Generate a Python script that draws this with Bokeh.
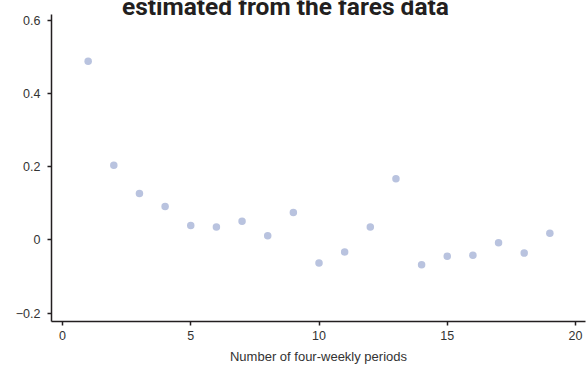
from bokeh.plotting import figure
from bokeh.models import FixedTicker, Range1d, Label
from bokeh.embed import file_html
from bokeh.resources import INLINE

# Data
periods = list(range(1, 20))
values = [0.488, 0.204, 0.127, 0.091, 0.039, 0.035, 0.051, 0.011, 0.075,
          -0.063, -0.033, 0.035, 0.167, -0.068, -0.045, -0.042, -0.008, -0.036, 0.018]
x_ticks = [0, 5, 10, 15, 20]
y_ticks = [-0.2, 0, 0.2, 0.4, 0.6]
y_tick_labels = ["\u22120.2", "0", "0.2", "0.4", "0.6"]
title_text = "estimated from the fares data"
x_label = "Number of four-weekly periods"

p = figure(width=587, height=369, output_backend="svg", toolbar_location=None,
           x_range=Range1d(-0.429, 20.39), y_range=Range1d(-0.223, 0.654),
           min_border_left=51, min_border_right=2, min_border_top=0, min_border_bottom=48)
p.outline_line_color = None
p.xgrid.visible = False
p.ygrid.visible = False
p.background_fill_color = "white"
p.border_fill_color = "white"

p.scatter(periods, values, size=7.5, color="#b9c3df", line_color=None)

for ax in (p.xaxis[0], p.yaxis[0]):
    ax.axis_line_color = "#231f20"
    ax.axis_line_width = 1.5
    ax.major_tick_line_color = "#231f20"
    ax.major_tick_line_width = 1.5
    ax.major_tick_out = 4
    ax.major_tick_in = 0
    ax.minor_tick_out = 0
    ax.minor_tick_in = 0
    ax.major_label_text_font = "Liberation Sans"
    ax.major_label_text_font_size = "12.5px"
    ax.major_label_text_color = "#333333"
    ax.major_label_standoff = 5

p.xaxis.ticker = FixedTicker(ticks=x_ticks)
p.yaxis.ticker = FixedTicker(ticks=y_ticks)
p.yaxis.bounds = (-0.223, 0.616)
p.yaxis.major_label_overrides = {t: s for t, s in zip(y_ticks, y_tick_labels)}
p.yaxis.major_label_standoff = 7

p.xaxis.axis_label = x_label
p.xaxis.axis_label_text_font = "Liberation Sans"
p.xaxis.axis_label_text_font_style = "normal"
p.xaxis.axis_label_text_font_size = "13px"
p.xaxis.axis_label_text_color = "#333333"
p.xaxis.axis_label_standoff = 6

title = Label(x=8.69, y=0.638, text=title_text, text_align="center",
              text_baseline="alphabetic", text_font="Roboto", text_font_style="bold",
              text_font_size="24.5px", text_color="#231f20")
p.add_layout(title)

open("out.html", "w").write(file_html(p, INLINE))
